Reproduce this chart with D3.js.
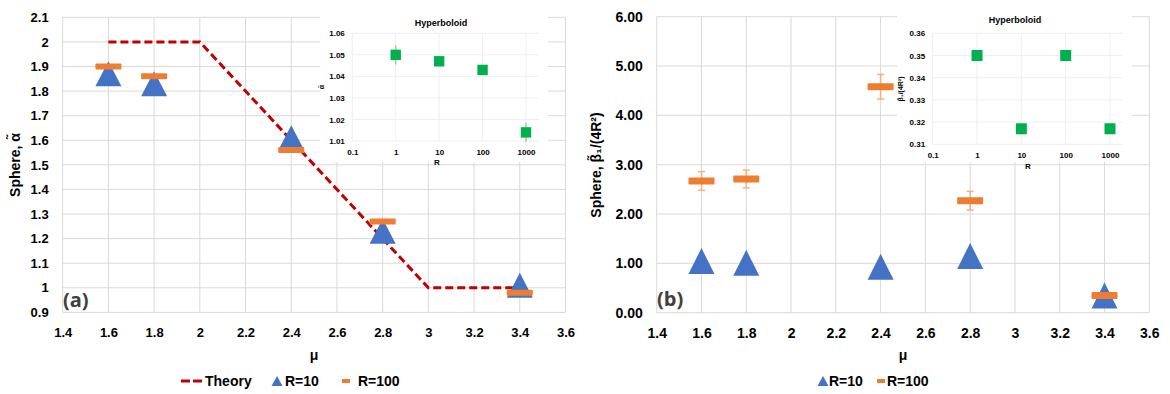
<!DOCTYPE html>
<html>
<head>
<meta charset="utf-8">
<script src="https://cdn.jsdelivr.net/npm/d3@7/dist/d3.min.js"></script>
<style>
  html, body { margin: 0; padding: 0; background: #fff; }
  svg { display: block; font-family: "Liberation Sans", Arial, sans-serif; font-weight: bold; }
</style>
</head>
<body>
<svg id="chart" width="1170" height="394"></svg>
<script>
// ---- data ----
const mu = [1.6, 1.8, 2.4, 2.8, 3.4];
const alphaR10 = [1.87, 1.83, 1.61, 1.23, 1.01];
const alphaR100 = [1.90, 1.86, 1.56, 1.27, 0.98];
const theoryMu = [1.6, 2, 3, 3.4];
const theoryAlpha = [2, 2, 1, 1];
const betaR10 = [1.05, 1.01, 0.93, 1.15, 0.35];
const betaR100 = [2.67, 2.71, 4.58, 2.27, 0.35];
const betaR100Err = [0.19, 0.18, 0.25, 0.19, 0];

const hypR = [1, 10, 100, 1000];
const hypAlpha = [1.050, 1.047, 1.043, 1.014];
const hypAlphaErr = [0.0045, 0.002, 0, 0.0045];
const hypBeta = [0.350, 0.317, 0.350, 0.317];

const muTicks = [1.4, 1.6, 1.8, 2, 2.2, 2.4, 2.6, 2.8, 3, 3.2, 3.4, 3.6];
const alphaTicks = [0.9, 1, 1.1, 1.2, 1.3, 1.4, 1.5, 1.6, 1.7, 1.8, 1.9, 2, 2.1];
const betaTicks = [0, 1, 2, 3, 4, 5, 6];
const rTicks = [0.1, 1, 10, 100, 1000];
const hypAlphaTicks = [1.01, 1.02, 1.03, 1.04, 1.05, 1.06];
const hypBetaTicks = [0.31, 0.32, 0.33, 0.34, 0.35, 0.36];

// ---- colours ----
const BLUE = '#4472C4', ORANGE = '#ED7D31', ORANGE_ERR = '#F4B183';
const GREEN = '#00B050', GREEN_ERR = '#A9D18E', RED = '#C00000';
const GRID = '#D9D9D9', GRID_IN = '#EFEFEF';

const svg = d3.select('#chart');
svg.append('rect').attr('width', 1170).attr('height', 394).attr('fill', '#fff');

const triPath = (w, h) => `M0,${-h / 2}L${w / 2},${h / 2}L${-w / 2},${h / 2}Z`;

function axisText(g, size) {
  g.call(s => s.select('.domain').remove());
  g.selectAll('line').remove();
  g.selectAll('text')
    .attr('fill', '#000')
    .style('font-size', size + 'px')
    .style('font-family', '"Liberation Sans", Arial, sans-serif')
    .style('font-weight', 'bold');
}

// main panel: gridlines + axes
function panel(x, y, xTicks, yTicks, xFmt, yFmt, fs) {
  const g = svg.append('g');
  g.selectAll('line.gx').data(xTicks).join('line')
    .attr('x1', d => x(d)).attr('x2', d => x(d))
    .attr('y1', y.range()[0]).attr('y2', y.range()[1])
    .attr('stroke', GRID).attr('stroke-width', 1);
  g.selectAll('line.gy').data(yTicks).join('line')
    .attr('x1', x.range()[0]).attr('x2', x.range()[1])
    .attr('y1', d => y(d)).attr('y2', d => y(d))
    .attr('stroke', GRID).attr('stroke-width', 1);
  g.append('g').attr('transform', `translate(0,${y.range()[0]})`)
    .call(d3.axisBottom(x).tickValues(xTicks).tickFormat(xFmt).tickSize(0).tickPadding(15))
    .call(s => axisText(s, fs));
  g.append('g').attr('transform', `translate(${x.range()[0]},0)`)
    .call(d3.axisLeft(y).tickValues(yTicks).tickFormat(yFmt).tickSize(0).tickPadding(14))
    .call(s => axisText(s, fs));
  return g;
}

// inset: white box, light grid, log x axis
function inset(box, x, y, yTicks, gridRight, yLabel, yLabelPos, rPos, titlePos) {
  const g = svg.append('g');
  g.append('rect').attr('x', box[0]).attr('y', box[1])
    .attr('width', box[2] - box[0]).attr('height', box[3] - box[1]).attr('fill', '#fff');
  g.selectAll('line.gx').data(rTicks).join('line')
    .attr('x1', d => x(d)).attr('x2', d => x(d))
    .attr('y1', y.range()[0]).attr('y2', y.range()[1])
    .attr('stroke', GRID_IN);
  g.selectAll('line.gy').data(yTicks).join('line')
    .attr('x1', x.range()[0]).attr('x2', gridRight)
    .attr('y1', d => y(d)).attr('y2', d => y(d))
    .attr('stroke', GRID_IN);
  g.append('g').attr('transform', `translate(0,${y.range()[0]})`)
    .call(d3.axisBottom(x).tickValues(rTicks).tickFormat(d => String(d)).tickSize(0).tickPadding(8))
    .call(s => axisText(s, 8));
  g.append('g').attr('transform', `translate(${x.range()[0]},0)`)
    .call(d3.axisLeft(y).tickValues(yTicks).tickFormat(d3.format('.2f')).tickSize(0).tickPadding(7.5))
    .call(s => axisText(s, 8));
  g.append('text').attr('x', titlePos[0]).attr('y', titlePos[1])
    .attr('text-anchor', 'middle').style('font-size', '9px').text('Hyperboloid');
  g.append('text').attr('x', rPos[0]).attr('y', rPos[1])
    .attr('text-anchor', 'middle').style('font-size', '8px').text('R');
  g.append('text')
    .attr('transform', `translate(${yLabelPos[0]},${yLabelPos[1]}) rotate(-90)`)
    .attr('text-anchor', 'middle').style('font-size', yLabelPos[2] + 'px').text(yLabel);
  return g;
}

// ================= Panel (a) =================
const xa = d3.scaleLinear().domain([1.4, 3.6]).range([62.7, 565.5]);
const ya = d3.scaleLinear().domain([0.9, 2.1]).range([312.4, 17.3]);
panel(xa, ya, muTicks, alphaTicks, d => String(+d.toFixed(1)), d => String(+d.toFixed(1)), 13);

// theory
const theory = theoryMu.map((m, i) => [m, theoryAlpha[i]]);
svg.append('path')
  .attr('d', d3.line().x(d => xa(d[0])).y(d => ya(d[1]))(theory))
  .attr('fill', 'none').attr('stroke', RED).attr('stroke-width', 3)
  .attr('stroke-dasharray', '8,4');

svg.append('g').selectAll('path').data(mu).join('path')
  .attr('transform', (d, i) => `translate(${xa(d)},${ya(alphaR10[i])})`)
  .attr('d', triPath(26, 25)).attr('fill', BLUE);
svg.append('g').selectAll('rect').data(mu).join('rect')
  .attr('x', d => xa(d) - 13).attr('y', (d, i) => ya(alphaR100[i]) - 3)
  .attr('width', 26).attr('height', 6).attr('rx', 1).attr('fill', ORANGE);

svg.append('text').attr('transform', 'translate(20,165) rotate(-90)')
  .attr('text-anchor', 'middle').style('font-size', '14px').text('Sphere, α̃');
svg.append('text').attr('x', 314).attr('y', 360)
  .attr('text-anchor', 'middle').style('font-size', '14px').text('μ');
svg.append('text').attr('x', 63).attr('y', 307)
  .style('font-family', '"Open Sans", sans-serif').style('font-size', '20px')
  .attr('fill', '#404040').text('(a)');

// legend (a)
const lega = svg.append('g').style('font-size', '14px');
lega.append('line').attr('x1', 181).attr('x2', 203).attr('y1', 381).attr('y2', 381)
  .attr('stroke', RED).attr('stroke-width', 3).attr('stroke-dasharray', '9,3');
lega.append('text').attr('x', 205).attr('y', 386).text('Theory');
lega.append('path').attr('transform', 'translate(277,381)').attr('d', triPath(11, 10)).attr('fill', BLUE);
lega.append('text').attr('x', 285).attr('y', 386).text('R=10');
lega.append('rect').attr('x', 342).attr('y', 379).attr('width', 8).attr('height', 4).attr('fill', ORANGE);
lega.append('text').attr('x', 358).attr('y', 386).text('R=100');

// inset (a)
const xia = d3.scaleLog().domain([0.1, 1000]).range([352.3, 526]);
const yia = d3.scaleLinear().domain([1.01, 1.06]).range([141, 33.3]);
inset([320, 12, 548, 162], xia, yia, hypAlphaTicks, 539, 'α̃', [324, 87, 7], [437, 165], [441, 26]);
svg.append('g').selectAll('line').data(hypR).join('line')
  .attr('x1', d => xia(d)).attr('x2', d => xia(d))
  .attr('y1', (d, i) => yia(hypAlpha[i] - hypAlphaErr[i]))
  .attr('y2', (d, i) => yia(hypAlpha[i] + hypAlphaErr[i]))
  .attr('stroke', GREEN_ERR).attr('stroke-width', 1.5);
svg.append('g').selectAll('rect').data(hypR).join('rect')
  .attr('x', d => xia(d) - 5.2).attr('y', (d, i) => yia(hypAlpha[i]) - 5.2)
  .attr('width', 10.4).attr('height', 10.4).attr('fill', GREEN);

// ================= Panel (b) =================
const xb = d3.scaleLinear().domain([1.4, 3.6]).range([656.7, 1149.3]);
const yb = d3.scaleLinear().domain([0, 6]).range([312.7, 16.7]);
panel(xb, yb, muTicks, betaTicks, d => String(+d.toFixed(1)), d3.format('.2f'), 14);

// error bars R=100
const eb = svg.append('g').attr('stroke', ORANGE_ERR).attr('stroke-width', 1.5);
mu.forEach((m, i) => {
  if (!betaR100Err[i]) return;
  const lo = yb(betaR100[i] - betaR100Err[i]), hi = yb(betaR100[i] + betaR100Err[i]);
  eb.append('line').attr('x1', xb(m)).attr('x2', xb(m)).attr('y1', lo).attr('y2', hi);
  eb.append('line').attr('x1', xb(m) - 3.5).attr('x2', xb(m) + 3.5).attr('y1', lo).attr('y2', lo);
  eb.append('line').attr('x1', xb(m) - 3.5).attr('x2', xb(m) + 3.5).attr('y1', hi).attr('y2', hi);
});

svg.append('g').selectAll('path').data(mu).join('path')
  .attr('transform', (d, i) => `translate(${xb(d)},${yb(betaR10[i])})`)
  .attr('d', triPath(26, 26)).attr('fill', BLUE);
svg.append('g').selectAll('rect').data(mu).join('rect')
  .attr('x', d => xb(d) - 13).attr('y', (d, i) => yb(betaR100[i]) - 3.5)
  .attr('width', 26).attr('height', 7).attr('rx', 1).attr('fill', ORANGE);

svg.append('text').attr('transform', 'translate(601,165) rotate(-90)')
  .attr('text-anchor', 'middle').style('font-size', '14px').text('Sphere, β̃₁/(4R²)');
svg.append('text').attr('x', 903).attr('y', 360)
  .attr('text-anchor', 'middle').style('font-size', '14px').text('μ');
svg.append('text').attr('x', 657).attr('y', 306)
  .style('font-family', '"Open Sans", sans-serif').style('font-size', '20px')
  .attr('fill', '#404040').text('(b)');

// legend (b)
const legb = svg.append('g').style('font-size', '14px');
legb.append('path').attr('transform', 'translate(823,381)').attr('d', triPath(11, 10)).attr('fill', BLUE);
legb.append('text').attr('x', 829).attr('y', 386).text('R=10');
legb.append('rect').attr('x', 877).attr('y', 379).attr('width', 8).attr('height', 4).attr('fill', ORANGE);
legb.append('text').attr('x', 887).attr('y', 386).text('R=100');

// inset (b)
const xib = d3.scaleLog().domain([0.1, 1000]).range([932.7, 1110]);
const yib = d3.scaleLinear().domain([0.31, 0.36]).range([144.3, 33.3]);
inset([897, 12, 1132, 162], xib, yib, hypBetaTicks, 1123, 'β̃₁/(4R²)', [903, 89, 7], [1028, 169], [1015, 23]);
svg.append('g').selectAll('rect').data(hypR).join('rect')
  .attr('x', d => xib(d) - 5.5).attr('y', (d, i) => yib(hypBeta[i]) - 5.5)
  .attr('width', 11).attr('height', 11).attr('fill', GREEN);
</script>
</body>
</html>
